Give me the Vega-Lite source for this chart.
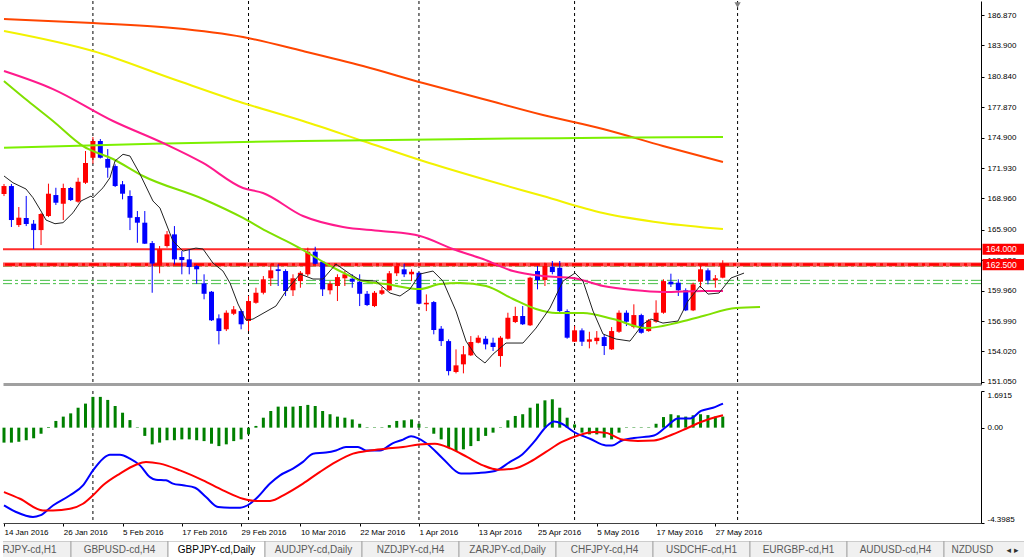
{
"$schema": "https://vega.github.io/schema/vega-lite/v6.json",
"padding": 0,
"background": "#ffffff",
"spacing": 4,
"config": {"view": {"stroke": null}, "axis": {"labelFont": "Liberation Sans", "labelFontSize": 8, "labelColor": "#000000", "grid": false, "labelOverlap": false, "labelSeparation": 0}, "text": {"font": "Liberation Sans"}},
"datasets": {
"seps": [{"i":12},{"i":33},{"i":56},{"i":77},{"i":99}],
"hl": [{"p":164.0,"k":"r1","lbl":"164.000"},{"p":162.5,"k":"r2","lbl":"162.500"},{"p":162.33,"k":"g","lbl":""},{"p":160.96,"k":"g","lbl":""},{"p":160.64,"k":"g","lbl":""}],
"tri": [{"i":99,"p":187.85}],
"candles": [
{"i":0,"o":169.39,"h":170.37,"l":169.19,"c":170.17},
{"i":1,"o":170.17,"h":170.37,"l":166.17,"c":166.85},
{"i":2,"o":166.36,"h":168.12,"l":166.17,"c":167.08},
{"i":3,"o":167.05,"h":169.2,"l":166.26,"c":166.46},
{"i":4,"o":166.49,"h":166.85,"l":164.02,"c":165.87},
{"i":5,"o":165.87,"h":167.53,"l":164.41,"c":167.44},
{"i":6,"o":167.24,"h":170.4,"l":167.14,"c":169.42},
{"i":7,"o":169.29,"h":170.0,"l":168.32,"c":168.54},
{"i":8,"o":168.44,"h":170.4,"l":166.85,"c":169.98},
{"i":9,"o":169.98,"h":170.07,"l":168.71,"c":168.8},
{"i":10,"o":168.64,"h":170.98,"l":168.54,"c":170.59},
{"i":11,"o":170.49,"h":173.59,"l":170.37,"c":172.42},
{"i":12,"o":172.93,"h":174.96,"l":172.35,"c":174.57},
{"i":13,"o":174.57,"h":174.76,"l":172.86,"c":172.93},
{"i":14,"o":172.81,"h":173.78,"l":170.98,"c":171.96},
{"i":15,"o":172.12,"h":172.29,"l":170.07,"c":170.17},
{"i":16,"o":170.34,"h":170.66,"l":168.87,"c":169.42},
{"i":17,"o":169.19,"h":169.75,"l":165.87,"c":167.08},
{"i":18,"o":167.14,"h":167.73,"l":164.63,"c":166.59},
{"i":19,"o":166.59,"h":167.73,"l":164.51,"c":164.54},
{"i":20,"o":164.6,"h":164.8,"l":159.75,"c":162.6},
{"i":21,"o":162.52,"h":164.31,"l":161.65,"c":163.99},
{"i":22,"o":164.31,"h":165.78,"l":164.15,"c":165.45},
{"i":23,"o":165.45,"h":166.26,"l":162.52,"c":163.01},
{"i":24,"o":163.24,"h":163.82,"l":161.55,"c":162.94},
{"i":25,"o":163.01,"h":163.99,"l":161.55,"c":162.26},
{"i":26,"o":162.36,"h":162.46,"l":160.63,"c":162.04},
{"i":27,"o":160.67,"h":161.55,"l":159.11,"c":159.65},
{"i":28,"o":159.85,"h":159.92,"l":156.99,"c":157.06},
{"i":29,"o":157.25,"h":157.64,"l":154.71,"c":156.01},
{"i":30,"o":156.18,"h":158.03,"l":156.01,"c":157.8},
{"i":31,"o":157.7,"h":158.45,"l":157.57,"c":158.13},
{"i":32,"o":157.96,"h":158.13,"l":156.18,"c":156.67},
{"i":33,"o":156.99,"h":159.43,"l":156.01,"c":158.94},
{"i":34,"o":158.77,"h":160.24,"l":158.68,"c":159.75},
{"i":35,"o":159.75,"h":161.38,"l":159.59,"c":161.06},
{"i":36,"o":161.16,"h":162.58,"l":160.41,"c":161.94},
{"i":37,"o":162.04,"h":162.52,"l":160.41,"c":161.87},
{"i":38,"o":161.87,"h":162.04,"l":159.43,"c":159.92},
{"i":39,"o":159.99,"h":161.55,"l":159.43,"c":161.16},
{"i":40,"o":160.89,"h":161.87,"l":160.24,"c":161.7},
{"i":41,"o":161.55,"h":164.15,"l":161.38,"c":163.76},
{"i":42,"o":163.76,"h":164.24,"l":162.52,"c":162.58},
{"i":43,"o":162.78,"h":162.85,"l":159.43,"c":160.08},
{"i":44,"o":159.99,"h":160.89,"l":159.59,"c":160.63},
{"i":45,"o":160.41,"h":161.55,"l":158.94,"c":161.28},
{"i":46,"o":161.16,"h":161.87,"l":160.41,"c":161.55},
{"i":47,"o":161.12,"h":161.55,"l":160.24,"c":160.83},
{"i":48,"o":160.83,"h":161.55,"l":158.45,"c":159.65},
{"i":49,"o":159.65,"h":159.92,"l":158.45,"c":158.55},
{"i":50,"o":158.45,"h":159.92,"l":158.35,"c":159.75},
{"i":51,"o":159.65,"h":160.31,"l":159.53,"c":159.99},
{"i":52,"o":159.99,"h":161.87,"l":159.92,"c":161.65},
{"i":53,"o":161.65,"h":162.68,"l":161.38,"c":162.36},
{"i":54,"o":162.04,"h":162.58,"l":161.28,"c":161.55},
{"i":55,"o":161.55,"h":162.04,"l":160.89,"c":161.8},
{"i":56,"o":161.7,"h":161.75,"l":158.62,"c":158.68},
{"i":57,"o":158.62,"h":159.59,"l":157.96,"c":158.77},
{"i":58,"o":158.84,"h":158.94,"l":155.69,"c":156.11},
{"i":59,"o":156.24,"h":156.5,"l":154.55,"c":155.03},
{"i":60,"o":155.03,"h":155.2,"l":151.68,"c":152.1},
{"i":61,"o":152.01,"h":154.22,"l":151.88,"c":152.66},
{"i":62,"o":152.76,"h":154.55,"l":151.88,"c":153.74},
{"i":63,"o":153.64,"h":155.52,"l":153.57,"c":154.94},
{"i":64,"o":154.87,"h":155.59,"l":154.81,"c":155.36},
{"i":65,"o":155.26,"h":155.52,"l":154.22,"c":154.71},
{"i":66,"o":154.87,"h":155.36,"l":154.06,"c":154.45},
{"i":67,"o":153.57,"h":155.52,"l":152.52,"c":155.36},
{"i":68,"o":155.26,"h":157.8,"l":155.2,"c":157.31},
{"i":69,"o":156.89,"h":158.38,"l":156.79,"c":157.48},
{"i":70,"o":157.48,"h":158.45,"l":156.6,"c":156.67},
{"i":71,"o":156.57,"h":161.31,"l":156.5,"c":161.22},
{"i":72,"o":161.87,"h":162.36,"l":160.08,"c":160.99},
{"i":73,"o":160.99,"h":162.68,"l":160.41,"c":162.36},
{"i":74,"o":162.29,"h":162.85,"l":161.55,"c":161.77},
{"i":75,"o":162.19,"h":162.85,"l":157.74,"c":157.96},
{"i":76,"o":157.96,"h":158.13,"l":155.26,"c":155.36},
{"i":77,"o":154.97,"h":156.5,"l":154.94,"c":156.08},
{"i":78,"o":156.08,"h":156.27,"l":154.55,"c":154.97},
{"i":79,"o":154.97,"h":155.94,"l":154.32,"c":155.2},
{"i":80,"o":155.03,"h":156.01,"l":154.71,"c":155.36},
{"i":81,"o":155.42,"h":155.69,"l":153.67,"c":154.55},
{"i":82,"o":154.22,"h":156.4,"l":154.16,"c":156.01},
{"i":83,"o":155.94,"h":158.03,"l":155.84,"c":157.8},
{"i":84,"o":157.8,"h":158.03,"l":156.5,"c":156.92},
{"i":85,"o":156.4,"h":158.62,"l":156.27,"c":157.57},
{"i":86,"o":157.57,"h":157.7,"l":155.75,"c":155.84},
{"i":87,"o":156.01,"h":157.18,"l":155.94,"c":157.06},
{"i":88,"o":156.92,"h":159.01,"l":156.82,"c":157.8},
{"i":89,"o":157.8,"h":161.06,"l":157.7,"c":160.89},
{"i":90,"o":160.83,"h":161.61,"l":160.31,"c":160.57},
{"i":91,"o":160.73,"h":161.06,"l":159.43,"c":159.99},
{"i":92,"o":159.99,"h":160.18,"l":157.96,"c":158.03},
{"i":93,"o":158.03,"h":160.73,"l":157.96,"c":160.57},
{"i":94,"o":160.83,"h":162.52,"l":160.24,"c":162.04},
{"i":95,"o":161.94,"h":162.13,"l":160.57,"c":160.96},
{"i":96,"o":160.96,"h":161.48,"l":160.24,"c":161.16},
{"i":97,"o":161.22,"h":162.92,"l":161.16,"c":162.58}
],
"orange": [{"i":0,"v":186.48},{"i":12.01,"v":186.09},{"i":22.8,"v":185.6},{"i":32.25,"v":184.72},{"i":40.35,"v":183.35},{"i":48.45,"v":181.89},{"i":56.55,"v":180.23},{"i":64.64,"v":178.67},{"i":72.74,"v":177.1},{"i":80.84,"v":175.74},{"i":88.93,"v":174.08},{"i":97.03,"v":172.51}],
"yellow": [{"i":0,"v":185.31},{"i":12,"v":183.35},{"i":22.8,"v":180.62},{"i":32.25,"v":178.28},{"i":40.35,"v":176.52},{"i":48.45,"v":174.57},{"i":56.55,"v":172.61},{"i":64.64,"v":170.85},{"i":72.74,"v":169.19},{"i":80.84,"v":167.53},{"i":88.93,"v":166.56},{"i":97.03,"v":165.97}],
"flat": [{"i":0,"v":173.91},{"i":20.1,"v":174.3},{"i":40.35,"v":174.57},{"i":60.6,"v":174.75},{"i":80.8,"v":174.88},{"i":97.03,"v":174.96}],
"pink": [{"i":0,"v":181.4},{"i":6.61,"v":179.64},{"i":14.71,"v":176.52},{"i":21.46,"v":174.37},{"i":26.86,"v":172.42},{"i":32.25,"v":169.98},{"i":34.95,"v":169.49},{"i":40.35,"v":167.24},{"i":45.75,"v":166.17},{"i":50.88,"v":165.78},{"i":56.14,"v":165.29},{"i":60.59,"v":164.02},{"i":64.64,"v":163.04},{"i":68.7,"v":161.87},{"i":72.74,"v":161.38},{"i":76.79,"v":161.19},{"i":80.84,"v":160.41},{"i":84.89,"v":160.01},{"i":88.93,"v":159.82},{"i":94.33,"v":159.92},{"i":97.03,"v":159.92}],
"lime": [{"i":0,"v":180.42},{"i":3.24,"v":178.47},{"i":6.61,"v":176.52},{"i":10.66,"v":174.07},{"i":14.71,"v":172.81},{"i":18.76,"v":171.15},{"i":26.86,"v":168.9},{"i":32.25,"v":167.05},{"i":35.36,"v":165.78},{"i":39.41,"v":164.31},{"i":44.8,"v":162.07},{"i":48.45,"v":160.89},{"i":51.55,"v":160.6},{"i":56.14,"v":160.11},{"i":58.84,"v":160.6},{"i":61.54,"v":160.7},{"i":65.05,"v":160.41},{"i":68.7,"v":159.14},{"i":71.8,"v":158.16},{"i":74.49,"v":157.77},{"i":78.14,"v":157.77},{"i":82.19,"v":157.18},{"i":86.64,"v":156.3},{"i":90.69,"v":156.79},{"i":94.33,"v":157.48},{"i":98.79,"v":158.26},{"i":102.03,"v":158.35}],
"black": [{"i":0,"v":171.15},{"i":1.21,"v":170.49},{"i":2.97,"v":169.88},{"i":3.91,"v":169.03},{"i":4.99,"v":167.73},{"i":5.67,"v":166.85},{"i":6.88,"v":166.49},{"i":7.96,"v":166.59},{"i":9.31,"v":167.56},{"i":10.39,"v":168.71},{"i":11.74,"v":169.19},{"i":12.01,"v":169.03},{"i":13.36,"v":170.0},{"i":14.3,"v":170.98},{"i":14.98,"v":172.61},{"i":16.06,"v":173.27},{"i":17.0,"v":173.1},{"i":18.35,"v":171.34},{"i":20.1,"v":168.71},{"i":21.05,"v":168.02},{"i":22.8,"v":164.8},{"i":24.16,"v":163.82},{"i":25.9,"v":164.11},{"i":26.86,"v":164.02},{"i":28.2,"v":162.65},{"i":29.55,"v":161.87},{"i":30.5,"v":160.7},{"i":31.58,"v":158.65},{"i":32.66,"v":157.08},{"i":33.6,"v":157.18},{"i":36.7,"v":158.45},{"i":38.06,"v":159.92},{"i":39.95,"v":161.58},{"i":41.7,"v":161.09},{"i":43.05,"v":161.09},{"i":44.8,"v":162.55},{"i":46.7,"v":161.58},{"i":48.04,"v":160.99},{"i":50.2,"v":160.89},{"i":52.09,"v":159.72},{"i":53.44,"v":159.43},{"i":54.79,"v":160.11},{"i":56.14,"v":161.58},{"i":57.89,"v":161.87},{"i":59.24,"v":160.89},{"i":61.0,"v":157.96},{"i":62.35,"v":155.03},{"i":63.7,"v":153.57},{"i":64.91,"v":152.89},{"i":66.0,"v":153.76},{"i":67.75,"v":154.84},{"i":70.04,"v":154.84},{"i":71.8,"v":156.3},{"i":73.68,"v":158.26},{"i":75.44,"v":160.89},{"i":77.06,"v":161.67},{"i":78.14,"v":160.89},{"i":79.49,"v":157.96},{"i":80.84,"v":155.72},{"i":82.6,"v":155.23},{"i":84.48,"v":155.03},{"i":86.23,"v":156.69},{"i":87.31,"v":157.18},{"i":88.93,"v":156.79},{"i":90.96,"v":156.99},{"i":92.31,"v":158.94},{"i":93.93,"v":160.41},{"i":95.01,"v":159.62},{"i":96.49,"v":159.72},{"i":98.11,"v":161.19},{"i":99.87,"v":161.67}],
"hist": [{"i":0,"v":-0.69},{"i":1,"v":-0.69},{"i":2,"v":-0.65},{"i":3,"v":-0.58},{"i":4,"v":-0.49},{"i":5,"v":-0.28},{"i":6,"v":0.03},{"i":7,"v":0.31},{"i":8,"v":0.51},{"i":9,"v":0.66},{"i":10,"v":0.92},{"i":11,"v":1.11},{"i":12,"v":1.42},{"i":13,"v":1.42},{"i":14,"v":1.28},{"i":15,"v":1.0},{"i":16,"v":0.69},{"i":17,"v":0.35},{"i":18,"v":0.02},{"i":19,"v":-0.38},{"i":20,"v":-0.77},{"i":21,"v":-0.69},{"i":22,"v":-0.58},{"i":23,"v":-0.58},{"i":24,"v":-0.54},{"i":25,"v":-0.54},{"i":26,"v":-0.58},{"i":27,"v":-0.62},{"i":28,"v":-0.74},{"i":29,"v":-0.85},{"i":30,"v":-0.77},{"i":31,"v":-0.62},{"i":32,"v":-0.54},{"i":33,"v":-0.31},{"i":34,"v":0.08},{"i":35,"v":0.46},{"i":36,"v":0.77},{"i":37,"v":0.97},{"i":38,"v":0.97},{"i":39,"v":0.97},{"i":40,"v":1.0},{"i":41,"v":1.05},{"i":42,"v":1.0},{"i":43,"v":0.77},{"i":44,"v":0.62},{"i":45,"v":0.51},{"i":46,"v":0.46},{"i":47,"v":0.38},{"i":48,"v":0.18},{"i":49,"v":0.02},{"i":50,"v":0.02},{"i":51,"v":0.02},{"i":52,"v":0.12},{"i":53,"v":0.31},{"i":54,"v":0.34},{"i":55,"v":0.38},{"i":56,"v":0.18},{"i":57,"v":0.02},{"i":58,"v":-0.28},{"i":59,"v":-0.54},{"i":60,"v":-0.92},{"i":61,"v":-1.08},{"i":62,"v":-1.0},{"i":63,"v":-0.85},{"i":64,"v":-0.62},{"i":65,"v":-0.38},{"i":66,"v":-0.23},{"i":67,"v":0.02},{"i":68,"v":0.34},{"i":69,"v":0.54},{"i":70,"v":0.62},{"i":71,"v":0.92},{"i":72,"v":1.11},{"i":73,"v":1.26},{"i":74,"v":1.31},{"i":75,"v":0.92},{"i":76,"v":0.46},{"i":77,"v":0.15},{"i":78,"v":-0.23},{"i":79,"v":-0.31},{"i":80,"v":-0.31},{"i":81,"v":-0.46},{"i":82,"v":-0.54},{"i":83,"v":-0.23},{"i":84,"v":0.02},{"i":85,"v":0.02},{"i":86,"v":0.02},{"i":87,"v":0.02},{"i":88,"v":0.18},{"i":89,"v":0.49},{"i":90,"v":0.62},{"i":91,"v":0.57},{"i":92,"v":0.51},{"i":93,"v":0.57},{"i":94,"v":0.62},{"i":95,"v":0.58},{"i":96,"v":0.51},{"i":97,"v":0.51}],
"mblue": [{"i":0,"v":-3.59},{"i":1.62,"v":-3.89},{"i":3.91,"v":-4.12},{"i":4.86,"v":-4.05},{"i":6.61,"v":-3.59},{"i":8.91,"v":-3.12},{"i":10.66,"v":-2.66},{"i":12.01,"v":-1.97},{"i":13.36,"v":-1.43},{"i":14.3,"v":-1.25},{"i":15.65,"v":-1.25},{"i":17.0,"v":-1.43},{"i":18.35,"v":-1.74},{"i":19.7,"v":-2.28},{"i":20.5,"v":-2.4},{"i":21.86,"v":-2.43},{"i":22.8,"v":-2.58},{"i":24.16,"v":-2.66},{"i":25.78,"v":-2.77},{"i":27.26,"v":-3.2},{"i":28.88,"v":-3.66},{"i":30.5,"v":-3.69},{"i":31.85,"v":-3.69},{"i":33.2,"v":-3.51},{"i":34.0,"v":-3.28},{"i":35.9,"v":-2.58},{"i":37.25,"v":-2.2},{"i":39.0,"v":-1.89},{"i":40.35,"v":-1.58},{"i":41.7,"v":-1.2},{"i":43.45,"v":-1.15},{"i":44.8,"v":-1.05},{"i":46.15,"v":-0.89},{"i":47.77,"v":-0.89},{"i":48.85,"v":-1.05},{"i":50.74,"v":-1.05},{"i":52.5,"v":-0.71},{"i":53.85,"v":-0.55},{"i":54.93,"v":-0.4},{"i":57.09,"v":-0.74},{"i":59.24,"v":-1.43},{"i":61.67,"v":-2.12},{"i":64.1,"v":-2.09},{"i":66.26,"v":-2.0},{"i":68.29,"v":-1.58},{"i":69.9,"v":-1.25},{"i":71.53,"v":-0.66},{"i":73.14,"v":0.03},{"i":74.22,"v":0.29},{"i":75.3,"v":0.18},{"i":76.92,"v":-0.2},{"i":79.08,"v":-0.51},{"i":81.24,"v":-0.82},{"i":82.05,"v":-0.82},{"i":83.4,"v":-0.59},{"i":85.02,"v":-0.48},{"i":87.72,"v":-0.36},{"i":89.34,"v":0.03},{"i":90.96,"v":0.42},{"i":92.58,"v":0.42},{"i":94.06,"v":0.77},{"i":95.68,"v":0.92},{"i":97.03,"v":1.11}],
"mred": [{"i":0,"v":-2.97},{"i":2.16,"v":-3.28},{"i":5.26,"v":-3.82},{"i":6.61,"v":-3.82},{"i":8.91,"v":-3.74},{"i":10.66,"v":-3.51},{"i":12.01,"v":-3.12},{"i":13.36,"v":-2.66},{"i":15.65,"v":-2.12},{"i":17.81,"v":-1.71},{"i":19.16,"v":-1.58},{"i":21.05,"v":-1.66},{"i":23.75,"v":-1.97},{"i":26.86,"v":-2.43},{"i":29.55,"v":-2.89},{"i":32.25,"v":-3.28},{"i":34.0,"v":-3.38},{"i":35.9,"v":-3.38},{"i":38.06,"v":-3.05},{"i":40.35,"v":-2.58},{"i":42.65,"v":-2.04},{"i":44.8,"v":-1.58},{"i":47.1,"v":-1.2},{"i":49.39,"v":-1.05},{"i":51.55,"v":-0.97},{"i":53.85,"v":-0.89},{"i":56.0,"v":-0.78},{"i":58.16,"v":-0.74},{"i":60.32,"v":-0.97},{"i":62.48,"v":-1.35},{"i":64.64,"v":-1.74},{"i":66.67,"v":-1.94},{"i":68.83,"v":-1.89},{"i":70.99,"v":-1.58},{"i":73.14,"v":-1.12},{"i":75.3,"v":-0.66},{"i":77.46,"v":-0.36},{"i":79.62,"v":-0.2},{"i":81.24,"v":-0.24},{"i":83.4,"v":-0.55},{"i":85.56,"v":-0.61},{"i":87.72,"v":-0.59},{"i":89.88,"v":-0.36},{"i":92.04,"v":-0.05},{"i":94.06,"v":0.26},{"i":97.03,"v":0.57}],
"tabs": [{"k":0,"name":"EURJPY-cd,H1"},{"k":1,"name":"GBPUSD-cd,H4"},{"k":2,"name":"GBPJPY-cd,Daily"},{"k":3,"name":"AUDJPY-cd,Daily"},{"k":4,"name":"NZDJPY-cd,H4"},{"k":5,"name":"ZARJPY-cd,Daily"},{"k":6,"name":"CHFJPY-cd,H4"},{"k":7,"name":"USDCHF-cd,H1"},{"k":8,"name":"EURGBP-cd,H1"},{"k":9,"name":"AUDUSD-cd,H4"},{"k":10,"name":"NZDUSD-cd,H1"}]
},
"vconcat": [
{
"width": 978, "height": 383,
"layer": [
{"data": {"name": "seps"}, "mark": {"type": "rule", "color": "#000000", "strokeWidth": 1, "strokeDash": [3, 3]},
 "encoding": {"x": {"field": "i", "type": "quantitative", "scale": {"domain": [-0.135, 131.85], "nice": false, "zero": false, "padding": 0}, "axis": {"orient": "bottom", "labels": false, "ticks": false, "domainColor": "#a0a0a0", "domainWidth": 3, "title": null, "grid": false}}}},
{"data": {"name": "hl"}, "transform": [{"filter": "datum.k === 'g'"}], "mark": {"type": "rule", "color": "#45bf45", "strokeWidth": 1, "strokeDash": [10, 3, 3, 3]},
 "encoding": {"y": {"field": "p", "type": "quantitative", "scale": {"domain": [150.84, 188.237], "nice": false, "zero": false}, "axis": {"orient": "right", "values": [186.87, 183.9, 180.84, 177.87, 174.9, 171.93, 168.96, 165.9, 162.93, 159.96, 156.99, 154.02, 151.05], "tickCount": 40, "format": ".3f", "tickSize": 3, "tickColor": "#000000", "domainColor": "#000000", "labelPadding": 3, "labelFlush": false, "labelOverlap": false, "labelBaseline": "middle", "title": null, "grid": false}}}},
{"data": {"name": "hl"}, "transform": [{"filter": "datum.k === 'r1'"}], "mark": {"type": "rule", "color": "#ff2a2a", "strokeWidth": 2},
 "encoding": {"y": {"field": "p", "type": "quantitative", "scale": {"domain": [150.84, 188.237], "nice": false, "zero": false}}}},
{"data": {"name": "hl"}, "transform": [{"filter": "datum.k === 'r2'"}], "mark": {"type": "rule", "color": "#ff5050", "strokeWidth": 4},
 "encoding": {"y": {"field": "p", "type": "quantitative", "scale": {"domain": [150.84, 188.237], "nice": false, "zero": false}}}},
{"data": {"name": "hl"}, "transform": [{"filter": "datum.k === 'r2'"}], "mark": {"type": "rule", "color": "#ff0000", "strokeWidth": 2.5, "strokeDash": [10, 4, 3, 4]},
 "encoding": {"y": {"field": "p", "type": "quantitative", "scale": {"domain": [150.84, 188.237], "nice": false, "zero": false}}}},
{"data": {"name": "candles"}, "mark": {"type": "rule", "strokeWidth": 1},
 "encoding": {"x": {"field": "i", "type": "quantitative", "scale": {"domain": [-0.135, 131.85], "nice": false, "zero": false, "padding": 0}},
  "y": {"field": "l", "type": "quantitative", "scale": {"domain": [150.84, 188.237], "nice": false, "zero": false}},
  "y2": {"field": "h"},
  "color": {"condition": {"test": "datum.c >= datum.o", "value": "#ff0000"}, "value": "#0000ff"}}},
{"data": {"name": "candles"}, "mark": {"type": "bar", "size": 5},
 "encoding": {"x": {"field": "i", "type": "quantitative", "scale": {"domain": [-0.135, 131.85], "nice": false, "zero": false, "padding": 0}},
  "y": {"field": "o", "type": "quantitative", "scale": {"domain": [150.84, 188.237], "nice": false, "zero": false}},
  "y2": {"field": "c"},
  "color": {"condition": {"test": "datum.c >= datum.o", "value": "#ff0000"}, "value": "#0000ff"}}},
{"data": {"name": "orange"}, "mark": {"type": "line", "color": "#ff4500", "strokeWidth": 2, "interpolate": "monotone"},
 "encoding": {"x": {"field": "i", "type": "quantitative", "scale": {"domain": [-0.135, 131.85], "nice": false, "zero": false, "padding": 0}}, "y": {"field": "v", "type": "quantitative", "scale": {"domain": [150.84, 188.237], "nice": false, "zero": false}}}},
{"data": {"name": "yellow"}, "mark": {"type": "line", "color": "#f2f200", "strokeWidth": 2, "interpolate": "monotone"},
 "encoding": {"x": {"field": "i", "type": "quantitative", "scale": {"domain": [-0.135, 131.85], "nice": false, "zero": false, "padding": 0}}, "y": {"field": "v", "type": "quantitative", "scale": {"domain": [150.84, 188.237], "nice": false, "zero": false}}}},
{"data": {"name": "flat"}, "mark": {"type": "line", "color": "#7cf000", "strokeWidth": 2, "interpolate": "monotone"},
 "encoding": {"x": {"field": "i", "type": "quantitative", "scale": {"domain": [-0.135, 131.85], "nice": false, "zero": false, "padding": 0}}, "y": {"field": "v", "type": "quantitative", "scale": {"domain": [150.84, 188.237], "nice": false, "zero": false}}}},
{"data": {"name": "pink"}, "mark": {"type": "line", "color": "#ff1a8c", "strokeWidth": 2, "interpolate": "monotone"},
 "encoding": {"x": {"field": "i", "type": "quantitative", "scale": {"domain": [-0.135, 131.85], "nice": false, "zero": false, "padding": 0}}, "y": {"field": "v", "type": "quantitative", "scale": {"domain": [150.84, 188.237], "nice": false, "zero": false}}}},
{"data": {"name": "lime"}, "mark": {"type": "line", "color": "#80e000", "strokeWidth": 2, "interpolate": "monotone"},
 "encoding": {"x": {"field": "i", "type": "quantitative", "scale": {"domain": [-0.135, 131.85], "nice": false, "zero": false, "padding": 0}}, "y": {"field": "v", "type": "quantitative", "scale": {"domain": [150.84, 188.237], "nice": false, "zero": false}}}},
{"data": {"name": "black"}, "mark": {"type": "line", "color": "#222222", "strokeWidth": 1},
 "encoding": {"x": {"field": "i", "type": "quantitative", "scale": {"domain": [-0.135, 131.85], "nice": false, "zero": false, "padding": 0}}, "y": {"field": "v", "type": "quantitative", "scale": {"domain": [150.84, 188.237], "nice": false, "zero": false}}}},
{"data": {"name": "tri"}, "mark": {"type": "point", "shape": "triangle-down", "filled": true, "color": "#808080", "size": 40, "opacity": 1},
 "encoding": {"x": {"field": "i", "type": "quantitative", "scale": {"domain": [-0.135, 131.85], "nice": false, "zero": false, "padding": 0}}, "y": {"field": "p", "type": "quantitative", "scale": {"domain": [150.84, 188.237], "nice": false, "zero": false}}}},
{"data": {"name": "hl"}, "transform": [{"filter": "datum.k !== 'g'"}], "mark": {"type": "point", "shape": "M-1,-0.26L1,-0.26L1,0.26L-1,0.26Z", "filled": true, "color": "#ff0000", "size": 1849, "opacity": 1, "xOffset": 23},
 "encoding": {"x": {"value": "width"}, "y": {"field": "p", "type": "quantitative", "scale": {"domain": [150.84, 188.237], "nice": false, "zero": false}}}},
{"data": {"name": "hl"}, "transform": [{"filter": "datum.k !== 'g'"}], "mark": {"type": "text", "align": "left", "baseline": "middle", "fontSize": 8.5, "color": "#ffffff", "font": "Liberation Sans", "xOffset": 5},
 "encoding": {"x": {"value": "width"}, "y": {"field": "p", "type": "quantitative", "scale": {"domain": [150.84, 188.237], "nice": false, "zero": false}}, "text": {"field": "lbl"}}}
]
},
{
"width": 978, "height": 132,
"layer": [
{"data": {"name": "seps"}, "mark": {"type": "rule", "color": "#000000", "strokeWidth": 1, "strokeDash": [3, 3]},
 "encoding": {"x": {"field": "i", "type": "quantitative", "scale": {"domain": [-0.135, 131.85], "nice": false, "zero": false, "padding": 0},
  "axis": {"orient": "bottom", "values": [0, 8, 16, 24, 32, 40, 48, 56, 64, 72, 80, 88, 96], "tickCount": 40, "labelExpr": "['14 Jan 2016','26 Jan 2016','5 Feb 2016','17 Feb 2016','29 Feb 2016','10 Mar 2016','22 Mar 2016','1 Apr 2016','13 Apr 2016','25 Apr 2016','5 May 2016','17 May 2016','27 May 2016'][round(datum.value / 8)]", "labelAlign": "left", "labelBaseline": "top", "labelFlush": false, "labelOverlap": false, "labelPadding": 2, "tickSize": 3, "tickColor": "#000000", "domainColor": "#404040", "title": null, "grid": false}}}},
{"data": {"name": "hist"}, "mark": {"type": "bar", "size": 3, "color": "#008000"},
 "encoding": {"x": {"field": "i", "type": "quantitative", "scale": {"domain": [-0.135, 131.85], "nice": false, "zero": false, "padding": 0}},
  "y": {"field": "v", "type": "quantitative", "scale": {"domain": [-4.3985, 1.6915], "nice": false, "zero": false},
   "axis": {"orient": "right", "values": [1.6915, 0, -4.3985], "tickCount": 10, "labelExpr": "datum.value > 1 ? '1.6915' : (datum.value < -1 ? '-4.3985' : '0.00')", "labelFlush": true, "labelOverlap": false, "tickSize": 3, "tickColor": "#000000", "domainColor": "#000000", "labelPadding": 3, "title": null, "grid": false}},
  "y2": {"datum": 0}}},
{"data": {"name": "mblue"}, "mark": {"type": "line", "color": "#0000ff", "strokeWidth": 2, "interpolate": "monotone"},
 "encoding": {"x": {"field": "i", "type": "quantitative", "scale": {"domain": [-0.135, 131.85], "nice": false, "zero": false, "padding": 0}}, "y": {"field": "v", "type": "quantitative", "scale": {"domain": [-4.3985, 1.6915], "nice": false, "zero": false}}}},
{"data": {"name": "mred"}, "mark": {"type": "line", "color": "#ff0000", "strokeWidth": 2, "interpolate": "monotone"},
 "encoding": {"x": {"field": "i", "type": "quantitative", "scale": {"domain": [-0.135, 131.85], "nice": false, "zero": false, "padding": 0}}, "y": {"field": "v", "type": "quantitative", "scale": {"domain": [-4.3985, 1.6915], "nice": false, "zero": false}}}}
]
},
{
"width": 1024, "height": 18,
"view": {"fill": "#f0f0f0", "stroke": "#b4b4b4"},
"layer": [
{"data": {"name": "tabs"}, "mark": {"type": "bar", "clip": true, "strokeWidth": 1},
 "encoding": {"x": {"field": "k", "type": "ordinal", "scale": {"range": [-29, 1038], "paddingInner": 0, "paddingOuter": 0}, "axis": null},
  "fill": {"condition": {"test": "datum.k === 2", "value": "#ffffff"}, "value": "#f0f0f0"},
  "stroke": {"value": "#a8a8a8"}}},
{"data": {"name": "tabs"}, "transform": [{"filter": "datum.k < 10"}], "mark": {"type": "text", "align": "center", "baseline": "middle", "fontSize": 10, "clip": true, "font": "Liberation Sans"},
 "encoding": {"x": {"field": "k", "type": "ordinal", "scale": {"range": [-29, 1038], "paddingInner": 0, "paddingOuter": 0}, "axis": null},
  "text": {"field": "name"},
  "color": {"condition": {"test": "datum.k === 2", "value": "#000000"}, "value": "#5a5a5a"}}},
{"data": {"name": "tabs"}, "transform": [{"filter": "datum.k === 10"}], "mark": {"type": "text", "align": "left", "baseline": "middle", "fontSize": 10, "font": "Liberation Sans", "dx": -41, "limit": 43, "ellipsis": "\u200a", "color": "#5a5a5a"},
 "encoding": {"x": {"field": "k", "type": "ordinal", "scale": {"range": [-29, 1038], "paddingInner": 0, "paddingOuter": 0}, "axis": null},
  "text": {"field": "name"}}},
{"data": {"name": "tabs"}, "transform": [{"filter": "datum.k === 10"}], "mark": {"type": "text", "align": "left", "baseline": "middle", "fontSize": 9, "font": "DejaVu Sans", "dx": 14, "color": "#303030", "text": "◂  ▸"},
 "encoding": {"x": {"field": "k", "type": "ordinal", "scale": {"range": [-29, 1038], "paddingInner": 0, "paddingOuter": 0}, "axis": null}}}
]
}
]
}
